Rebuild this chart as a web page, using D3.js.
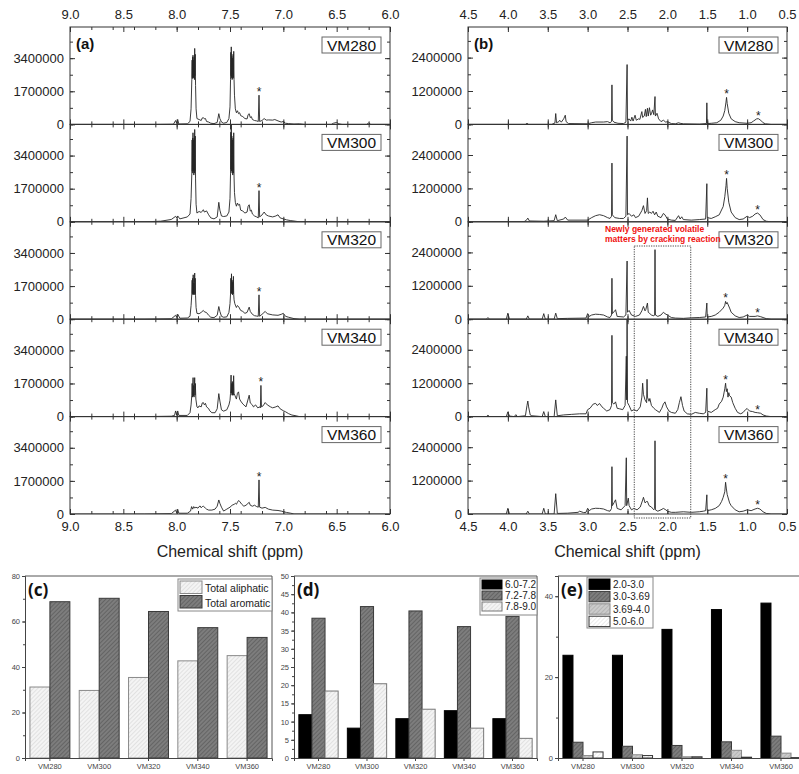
<!DOCTYPE html>
<html>
<head>
<meta charset="utf-8">
<script src="https://cdnjs.cloudflare.com/ajax/libs/d3/7.8.5/d3.min.js"></script>
<style>
body { margin: 0; background: #fff; }
svg { display: block; font-family: "Liberation Sans", Arial, sans-serif; }
</style>
</head>
<body>
<svg width="799" height="774"></svg>
<script>
// ---- data ----
var samples = ["VM280", "VM300", "VM320", "VM340", "VM360"];

var aromTicks = [9.0, 8.5, 8.0, 7.5, 7.0, 6.5, 6.0];
var aliTicks = [4.5, 4.0, 3.5, 3.0, 2.5, 2.0, 1.5, 1.0, 0.5];
var aromYTicks = [0, 1700000, 3400000];
var aliYTicks = [0, 1200000, 2400000];

// [ppm, intensity]
var aromVM280 = [[9.0,0],[8.2,0],[8.03,10e3],[8.01,200e3],[8.0,60e3],[7.99,250e3],[7.98,20e3],[7.9,30e3],[7.875,150e3],[7.865,800e3],[7.858,2300e3],[7.855,3300e3],[7.853,2400e3],[7.851,3450e3],[7.849,2350e3],[7.847,3550e3],[7.845,2400e3],[7.842,3300e3],[7.839,2400e3],[7.836,3450e3],[7.833,2300e3],[7.831,3900e3],[7.829,2500e3],[7.826,3600e3],[7.823,2000e3],[7.818,800e3],[7.81,300e3],[7.79,250e3],[7.77,200e3],[7.76,330e3],[7.75,350e3],[7.74,280e3],[7.73,300e3],[7.72,150e3],[7.7,120e3],[7.68,60e3],[7.65,40e3],[7.62,100e3],[7.605,550e3],[7.595,300e3],[7.58,120e3],[7.56,60e3],[7.53,100e3],[7.51,300e3],[7.5,900e3],[7.495,2300e3],[7.492,3700e3],[7.49,2500e3],[7.488,3980e3],[7.486,2400e3],[7.483,3500e3],[7.48,2300e3],[7.477,3400e3],[7.474,2350e3],[7.471,3600e3],[7.468,2400e3],[7.465,3750e3],[7.462,2300e3],[7.458,1500e3],[7.45,800e3],[7.44,600e3],[7.43,700e3],[7.42,550e3],[7.41,600e3],[7.4,450e3],[7.38,400e3],[7.36,300e3],[7.34,280e3],[7.33,500e3],[7.32,550e3],[7.31,350e3],[7.3,400e3],[7.29,250e3],[7.27,200e3],[7.25,180e3],[7.235,150e3],[7.228,1500e3],[7.222,150e3],[7.2,200e3],[7.18,300e3],[7.16,220e3],[7.14,230e3],[7.1,220e3],[7.08,250e3],[7.05,180e3],[7.02,120e3],[7.0,150e3],[6.98,60e3],[6.95,40e3],[6.9,20e3],[6.85,30e3],[6.8,0],[6.55,0],[6.53,60e3],[6.5,100e3],[6.48,30e3],[6.45,0],[6.22,0],[6.2,70e3],[6.18,0],[6.0,0]];
var aromVM300 = [[9.0,0],[8.3,0],[8.15,30e3],[8.05,120e3],[8.01,280e3],[8.0,200e3],[7.99,300e3],[7.97,150e3],[7.9,250e3],[7.875,400e3],[7.865,1200e3],[7.858,2500e3],[7.855,4200e3],[7.853,2600e3],[7.851,4300e3],[7.849,2500e3],[7.847,4570e3],[7.845,2600e3],[7.842,4200e3],[7.839,2400e3],[7.836,4300e3],[7.833,2500e3],[7.831,4740e3],[7.829,2600e3],[7.826,4400e3],[7.823,2200e3],[7.818,900e3],[7.81,450e3],[7.79,530e3],[7.77,480e3],[7.75,620e3],[7.74,500e3],[7.72,560e3],[7.7,360e3],[7.68,200e3],[7.65,150e3],[7.62,250e3],[7.605,1000e3],[7.595,600e3],[7.58,300e3],[7.56,270e3],[7.53,300e3],[7.51,500e3],[7.5,1200e3],[7.495,2500e3],[7.492,4600e3],[7.49,2700e3],[7.488,5200e3],[7.486,2600e3],[7.483,4400e3],[7.48,2500e3],[7.477,4200e3],[7.474,2400e3],[7.471,4300e3],[7.468,2500e3],[7.465,4570e3],[7.462,2300e3],[7.458,1500e3],[7.45,1000e3],[7.44,800e3],[7.43,960e3],[7.42,850e3],[7.41,900e3],[7.4,600e3],[7.38,550e3],[7.36,450e3],[7.34,500e3],[7.33,800e3],[7.32,875e3],[7.31,550e3],[7.3,600e3],[7.29,400e3],[7.27,300e3],[7.25,250e3],[7.235,200e3],[7.228,1600e3],[7.222,250e3],[7.2,350e3],[7.18,500e3],[7.16,350e3],[7.14,300e3],[7.1,250e3],[7.07,300e3],[7.05,360e3],[7.03,200e3],[7.0,150e3],[6.97,100e3],[6.93,60e3],[6.9,40e3],[6.85,0],[6.0,0]];
var aromVM320 = [[9.0,0],[8.3,0],[8.05,20e3],[8.01,200e3],[8.0,100e3],[7.99,258e3],[7.97,50e3],[7.9,60e3],[7.875,150e3],[7.865,700e3],[7.858,1300e3],[7.855,2000e3],[7.853,1300e3],[7.85,2100e3],[7.847,1250e3],[7.845,2280e3],[7.842,1300e3],[7.839,1850e3],[7.836,1250e3],[7.833,1900e3],[7.831,2370e3],[7.829,1300e3],[7.826,2100e3],[7.823,1200e3],[7.818,600e3],[7.81,300e3],[7.79,280e3],[7.77,350e3],[7.75,450e3],[7.74,380e3],[7.72,340e3],[7.7,200e3],[7.68,100e3],[7.65,80e3],[7.62,200e3],[7.605,650e3],[7.595,400e3],[7.58,150e3],[7.56,100e3],[7.53,120e3],[7.51,350e3],[7.5,800e3],[7.495,1300e3],[7.492,2100e3],[7.489,1300e3],[7.486,2330e3],[7.483,1350e3],[7.48,2000e3],[7.477,1250e3],[7.474,1900e3],[7.471,1300e3],[7.468,2200e3],[7.465,1250e3],[7.462,1000e3],[7.455,800e3],[7.44,600e3],[7.43,700e3],[7.42,650e3],[7.4,450e3],[7.38,400e3],[7.36,300e3],[7.34,350e3],[7.32,620e3],[7.31,400e3],[7.29,250e3],[7.27,180e3],[7.25,160e3],[7.235,150e3],[7.228,1250e3],[7.222,150e3],[7.2,250e3],[7.17,400e3],[7.15,280e3],[7.1,220e3],[7.05,200e3],[7.02,250e3],[7.0,300e3],[6.98,150e3],[6.95,100e3],[6.9,30e3],[6.85,0],[6.0,0]];
var aromVM340 = [[9.0,0],[8.3,0],[8.05,20e3],[8.02,60e3],[8.01,290e3],[8.0,80e3],[7.99,290e3],[7.98,60e3],[7.9,60e3],[7.875,200e3],[7.865,600e3],[7.858,1100e3],[7.855,1700e3],[7.852,1000e3],[7.849,1600e3],[7.846,2000e3],[7.843,1050e3],[7.84,1600e3],[7.837,1000e3],[7.834,1600e3],[7.831,2000e3],[7.828,1100e3],[7.825,1700e3],[7.82,900e3],[7.81,500e3],[7.8,450e3],[7.79,550e3],[7.77,500e3],[7.76,700e3],[7.75,720e3],[7.74,600e3],[7.73,680e3],[7.72,500e3],[7.7,410e3],[7.69,300e3],[7.67,200e3],[7.64,200e3],[7.62,400e3],[7.605,1180e3],[7.595,800e3],[7.58,350e3],[7.56,280e3],[7.53,350e3],[7.51,600e3],[7.5,840e3],[7.495,1200e3],[7.49,2130e3],[7.487,1200e3],[7.484,1700e3],[7.481,1100e3],[7.478,1800e3],[7.475,1100e3],[7.472,1700e3],[7.469,1100e3],[7.466,2100e3],[7.462,1200e3],[7.455,1100e3],[7.44,900e3],[7.43,1200e3],[7.42,1270e3],[7.41,900e3],[7.4,800e3],[7.38,650e3],[7.36,550e3],[7.35,500e3],[7.33,900e3],[7.32,1100e3],[7.31,700e3],[7.29,600e3],[7.28,500e3],[7.26,600e3],[7.24,450e3],[7.22,500e3],[7.215,450e3],[7.21,1600e3],[7.205,500e3],[7.19,550e3],[7.17,720e3],[7.15,600e3],[7.12,500e3],[7.1,450e3],[7.07,500e3],[7.05,550e3],[7.03,400e3],[7.0,300e3],[6.98,250e3],[6.95,150e3],[6.92,80e3],[6.88,40e3],[6.85,0],[6.0,0]];
var aromVM360 = [[9.0,0],[8.3,0],[8.05,20e3],[8.01,200e3],[8.0,60e3],[7.99,240e3],[7.98,40e3],[7.9,40e3],[7.87,150e3],[7.86,380e3],[7.85,250e3],[7.84,380e3],[7.83,300e3],[7.82,350e3],[7.8,300e3],[7.79,380e3],[7.78,410e3],[7.77,320e3],[7.76,380e3],[7.75,400e3],[7.73,300e3],[7.72,250e3],[7.7,200e3],[7.67,200e3],[7.64,250e3],[7.62,400e3],[7.605,720e3],[7.595,550e3],[7.58,350e3],[7.56,150e3],[7.53,250e3],[7.5,350e3],[7.48,450e3],[7.46,500e3],[7.45,550e3],[7.44,500e3],[7.43,600e3],[7.42,690e3],[7.41,650e3],[7.39,500e3],[7.37,400e3],[7.35,450e3],[7.33,550e3],[7.32,600e3],[7.31,450e3],[7.29,400e3],[7.27,450e3],[7.25,380e3],[7.235,350e3],[7.228,1750e3],[7.222,350e3],[7.2,300e3],[7.17,340e3],[7.14,250e3],[7.1,200e3],[7.05,180e3],[7.02,150e3],[7.0,120e3],[6.97,80e3],[6.93,40e3],[6.9,0],[6.0,0]];

var aliVM280 = [[4.5,0],[3.78,0],[3.76,40e3],[3.74,0],[3.45,0],[3.41,50e3],[3.4,390e3],[3.39,60e3],[3.36,100e3],[3.35,150e3],[3.33,80e3],[3.3,200e3],[3.28,330e3],[3.27,100e3],[3.24,30e3],[3.0,20e3],[2.95,60e3],[2.9,85e3],[2.8,85e3],[2.75,100e3],[2.72,60e3],[2.7,100e3],[2.695,1420e3],[2.69,150e3],[2.67,80e3],[2.62,40e3],[2.55,30e3],[2.52,80e3],[2.505,2150e3],[2.5,150e3],[2.48,200e3],[2.46,120e3],[2.445,260e3],[2.43,120e3],[2.405,330e3],[2.39,150e3],[2.36,200e3],[2.345,180e3],[2.32,460e3],[2.31,250e3],[2.29,300e3],[2.275,540e3],[2.265,280e3],[2.25,580e3],[2.24,300e3],[2.225,600e3],[2.21,330e3],[2.2,380e3],[2.185,520e3],[2.17,350e3],[2.155,1000e3],[2.15,300e3],[2.13,400e3],[2.11,200e3],[2.08,100e3],[2.05,150e3],[2.02,80e3],[2.0,100e3],[1.95,30e3],[1.9,20e3],[1.86,60e3],[1.84,40e3],[1.8,20e3],[1.6,10e3],[1.51,30e3],[1.505,775e3],[1.5,30e3],[1.45,40e3],[1.38,60e3],[1.33,150e3],[1.3,300e3],[1.28,500e3],[1.265,800e3],[1.258,970e3],[1.25,750e3],[1.23,400e3],[1.2,200e3],[1.15,100e3],[1.1,60e3],[1.0,40e3],[0.95,60e3],[0.92,120e3],[0.88,200e3],[0.86,206e3],[0.83,150e3],[0.8,60e3],[0.77,20e3],[0.7,0],[0.5,0]];
var aliVM300 = [[4.5,0],[3.8,0],[3.77,50e3],[3.75,133e3],[3.73,30e3],[3.55,20e3],[3.42,40e3],[3.4,255e3],[3.38,40e3],[3.3,100e3],[3.28,170e3],[3.25,60e3],[3.0,60e3],[2.95,150e3],[2.9,220e3],[2.85,255e3],[2.8,220e3],[2.75,150e3],[2.72,120e3],[2.7,200e3],[2.695,2110e3],[2.69,250e3],[2.66,150e3],[2.6,120e3],[2.55,120e3],[2.52,200e3],[2.505,3080e3],[2.5,250e3],[2.48,300e3],[2.45,200e3],[2.42,250e3],[2.4,150e3],[2.36,200e3],[2.32,400e3],[2.3,580e3],[2.28,300e3],[2.26,400e3],[2.25,860e3],[2.24,300e3],[2.22,350e3],[2.2,300e3],[2.18,380e3],[2.16,250e3],[2.14,350e3],[2.12,200e3],[2.08,150e3],[2.05,300e3],[2.03,250e3],[2.0,100e3],[1.95,60e3],[1.9,50e3],[1.86,220e3],[1.84,100e3],[1.82,180e3],[1.8,80e3],[1.7,60e3],[1.6,80e3],[1.52,100e3],[1.505,1370e3],[1.5,150e3],[1.45,120e3],[1.4,180e3],[1.35,250e3],[1.3,550e3],[1.28,900e3],[1.265,1300e3],[1.258,1560e3],[1.25,1200e3],[1.23,700e3],[1.2,350e3],[1.15,150e3],[1.1,80e3],[1.05,100e3],[1.0,200e3],[0.97,150e3],[0.93,200e3],[0.9,280e3],[0.87,315e3],[0.84,250e3],[0.8,80e3],[0.76,20e3],[0.7,0],[0.5,0]];
var aliVM320 = [[4.5,0],[4.27,0],[4.25,60e3],[4.23,0],[4.02,0],[4.0,218e3],[3.98,0],[3.77,0],[3.75,120e3],[3.73,0],[3.57,0],[3.55,200e3],[3.53,0],[3.42,0],[3.4,218e3],[3.38,20e3],[3.25,30e3],[3.02,40e3],[3.0,200e3],[2.98,100e3],[2.95,150e3],[2.9,180e3],[2.85,170e3],[2.8,150e3],[2.75,80e3],[2.72,60e3],[2.7,150e3],[2.695,1470e3],[2.69,200e3],[2.66,300e3],[2.65,340e3],[2.63,100e3],[2.55,80e3],[2.52,150e3],[2.505,2090e3],[2.5,250e3],[2.48,315e3],[2.45,150e3],[2.4,100e3],[2.35,150e3],[2.32,300e3],[2.3,460e3],[2.28,300e3],[2.27,350e3],[2.25,580e3],[2.24,250e3],[2.22,200e3],[2.2,150e3],[2.17,120e3],[2.16,150e3],[2.155,2500e3],[2.15,150e3],[2.12,100e3],[2.08,150e3],[2.05,250e3],[2.03,200e3],[2.0,150e3],[1.95,60e3],[1.9,40e3],[1.8,30e3],[1.7,50e3],[1.6,60e3],[1.52,80e3],[1.505,580e3],[1.5,80e3],[1.45,100e3],[1.4,150e3],[1.35,250e3],[1.3,400e3],[1.28,500e3],[1.27,640e3],[1.26,550e3],[1.25,600e3],[1.22,400e3],[1.2,250e3],[1.15,120e3],[1.1,60e3],[1.05,80e3],[1.0,150e3],[0.97,100e3],[0.9,100e3],[0.87,120e3],[0.83,90e3],[0.8,60e3],[0.76,20e3],[0.7,0],[0.5,0]];
var aliVM340 = [[4.5,0],[4.27,0],[4.25,50e3],[4.23,0],[4.02,0],[4.0,170e3],[3.98,20e3],[3.92,0],[3.9,70e3],[3.88,0],[3.78,30e3],[3.76,400e3],[3.75,560e3],[3.74,350e3],[3.72,60e3],[3.7,30e3],[3.57,0],[3.55,180e3],[3.53,0],[3.42,0],[3.4,600e3],[3.38,30e3],[3.3,60e3],[3.2,80e3],[3.1,100e3],[3.02,100e3],[3.0,250e3],[2.97,300e3],[2.93,450e3],[2.9,475e3],[2.88,400e3],[2.85,470e3],[2.82,350e3],[2.8,300e3],[2.76,200e3],[2.72,250e3],[2.7,400e3],[2.695,2920e3],[2.69,500e3],[2.67,450e3],[2.65,530e3],[2.63,300e3],[2.6,280e3],[2.56,250e3],[2.53,400e3],[2.515,2170e3],[2.51,600e3],[2.505,3600e3],[2.5,500e3],[2.48,400e3],[2.45,200e3],[2.42,250e3],[2.38,200e3],[2.34,350e3],[2.32,700e3],[2.31,1200e3],[2.3,800e3],[2.28,600e3],[2.26,500e3],[2.255,1340e3],[2.25,700e3],[2.23,550e3],[2.22,650e3],[2.2,400e3],[2.17,300e3],[2.15,250e3],[2.1,150e3],[2.07,300e3],[2.05,450e3],[2.03,530e3],[2.01,350e3],[1.98,200e3],[1.95,150e3],[1.9,120e3],[1.87,250e3],[1.85,500e3],[1.83,715e3],[1.81,400e3],[1.79,200e3],[1.75,100e3],[1.7,80e3],[1.65,150e3],[1.6,120e3],[1.55,100e3],[1.52,150e3],[1.505,1020e3],[1.5,200e3],[1.45,150e3],[1.4,250e3],[1.37,300e3],[1.35,450e3],[1.32,550e3],[1.3,700e3],[1.29,850e3],[1.28,1000e3],[1.27,1200e3],[1.26,900e3],[1.25,1000e3],[1.24,700e3],[1.23,860e3],[1.22,750e3],[1.2,700e3],[1.18,500e3],[1.15,300e3],[1.12,150e3],[1.08,100e3],[1.05,150e3],[1.02,250e3],[1.0,290e3],[0.97,200e3],[0.93,180e3],[0.9,150e3],[0.87,140e3],[0.83,120e3],[0.8,60e3],[0.76,20e3],[0.7,0],[0.5,0]];
var aliVM360 = [[4.5,0],[4.02,0],[4.0,206e3],[3.98,0],[3.77,0],[3.75,100e3],[3.73,0],[3.57,0],[3.55,206e3],[3.53,0],[3.42,0],[3.4,730e3],[3.38,20e3],[3.25,30e3],[3.12,60e3],[3.1,100e3],[3.05,50e3],[3.02,60e3],[3.0,206e3],[2.98,120e3],[2.95,180e3],[2.9,206e3],[2.85,200e3],[2.8,180e3],[2.75,120e3],[2.72,100e3],[2.7,200e3],[2.695,1700e3],[2.69,300e3],[2.67,400e3],[2.65,510e3],[2.63,200e3],[2.58,150e3],[2.53,300e3],[2.515,2020e3],[2.51,300e3],[2.49,570e3],[2.48,300e3],[2.45,150e3],[2.42,200e3],[2.38,150e3],[2.34,250e3],[2.31,500e3],[2.3,600e3],[2.28,400e3],[2.26,450e3],[2.25,450e3],[2.23,300e3],[2.2,250e3],[2.17,150e3],[2.16,200e3],[2.155,2630e3],[2.15,150e3],[2.12,100e3],[2.08,150e3],[2.05,200e3],[2.02,150e3],[2.0,100e3],[1.95,60e3],[1.9,60e3],[1.8,80e3],[1.7,60e3],[1.6,80e3],[1.55,100e3],[1.52,120e3],[1.505,690e3],[1.5,120e3],[1.45,150e3],[1.4,200e3],[1.35,300e3],[1.32,450e3],[1.3,600e3],[1.28,800e3],[1.27,1140e3],[1.26,900e3],[1.25,700e3],[1.22,400e3],[1.2,300e3],[1.15,150e3],[1.1,80e3],[1.05,100e3],[1.0,150e3],[0.95,120e3],[0.9,180e3],[0.87,206e3],[0.84,180e3],[0.8,80e3],[0.76,20e3],[0.7,0],[0.5,0]];

// starred (solvent) peaks: [ppm, height]
var aromStars = [[[7.228,1500e3]],[[7.228,1600e3]],[[7.228,1250e3]],[[7.21,1600e3]],[[7.228,1750e3]]];
var aliStars = [[[1.258,970e3],[0.86,206e3]],[[1.258,1560e3],[0.87,315e3]],[[1.27,640e3],[0.87,120e3]],[[1.27,1200e3],[0.87,140e3]],[[1.27,1140e3],[0.87,206e3]]];
var newRegion = [2.415, 1.707];

// bar charts
var cSeries = ["Total aliphatic", "Total aromatic"];
var cValues = [[31.2, 29.7, 35.4, 42.7, 45.0], [68.7, 70.2, 64.4, 57.3, 53.0]];
var dSeries = ["6.0-7.2", "7.2-7.8", "7.8-9.0"];
var dValues = [[11.9, 8.2, 10.8, 13.0, 10.8], [38.4, 41.6, 40.4, 36.1, 38.9], [18.4, 20.4, 13.4, 8.2, 5.4]];
var eSeries = ["2.0-3.0", "3.0-3.69", "3.69-4.0", "5.0-6.0"];
var eValues = [[25.4, 25.4, 31.8, 36.7, 38.3], [3.9, 2.9, 3.1, 4.0, 5.4], [0.6, 0.8, 0.3, 1.9, 1.2], [1.5, 0.6, 0.3, 0.2, 0.1]];

// ---- drawing ----
var svg = d3.select("svg");
var defs = svg.append("defs");

function hatch(id, bg, fg) {
  var p = defs.append("pattern").attr("id", id)
    .attr("patternUnits", "userSpaceOnUse").attr("width", 3).attr("height", 3)
    .attr("patternTransform", "rotate(45)");
  p.append("rect").attr("width", 3).attr("height", 3).attr("fill", bg);
  p.append("line").attr("x1", 0.5).attr("y1", 0).attr("x2", 0.5).attr("y2", 3)
    .attr("stroke", fg).attr("stroke-width", 0.8);
}
hatch("hDark", "#7d7d7d", "#5e5e5e");
hatch("hLight", "#f4f4f4", "#dcdcdc");
hatch("hMid", "#cbcbcb", "#b0b0b0");
hatch("hWhite", "#ffffff", "#e6e6e6");

var top0 = 27, panelH = 97.4;

function drawStack(o) {
  var x = d3.scaleLinear().domain(o.xDomain).range(o.xRange);
  var minor = x.ticks(12);
  var line = d3.line().x(function (d) { return x(d[0]); });

  o.spectra.forEach(function (spec, i) {
    var py = top0 + i * panelH;
    var y = d3.scaleLinear().domain([0, o.yMax]).range([py + panelH, py]);
    var yMinor = d3.range(0, o.yMax, o.yTicks[1] / 2);
    var g = svg.append("g");
    var cid = o.id + i;
    defs.append("clipPath").attr("id", cid).append("rect")
      .attr("x", o.xRange[0]).attr("y", py).attr("width", o.xRange[1] - o.xRange[0]).attr("height", panelH);

    g.append("path").datum(spec)
      .attr("clip-path", "url(#" + cid + ")")
      .attr("d", line.y(function (d) { return y(d[1]); }))
      .attr("fill", "none").attr("stroke", "#262626").attr("stroke-width", 0.9)
      .attr("stroke-linejoin", "round");

    g.selectAll("text.star").data(o.stars[i]).enter().append("text")
      .attr("x", function (d) { return x(d[0]); })
      .attr("y", function (d) { return y(d[1]) + 1; })
      .attr("text-anchor", "middle").attr("font-size", 12).attr("fill", "#222")
      .text("*");

    // axes, ticks pointing inward
    g.append("g").attr("transform", "translate(" + o.xRange[0] + ",0)")
      .call(d3.axisLeft(y).tickValues(o.yTicks).tickSize(-5).tickPadding(6).tickFormat(d3.format("d")));
    g.append("g").attr("transform", "translate(" + o.xRange[0] + ",0)")
      .call(d3.axisLeft(y).tickValues(yMinor).tickSize(-3).tickFormat(""));
    g.append("g").attr("transform", "translate(" + o.xRange[1] + ",0)")
      .call(d3.axisRight(y).tickValues(o.yTicks).tickSize(-5).tickFormat(""));
    g.append("g").attr("transform", "translate(" + o.xRange[1] + ",0)")
      .call(d3.axisRight(y).tickValues(yMinor).tickSize(-3).tickFormat(""));

    g.append("g").attr("transform", "translate(0," + py + ")")
      .call(d3.axisTop(x).tickValues(o.xTicks).tickSize(-5).tickPadding(8)
        .tickFormat(i === 0 ? d3.format(".1f") : ""));
    g.append("g").attr("transform", "translate(0," + py + ")")
      .call(d3.axisTop(x).tickValues(minor).tickSize(-3).tickFormat(""));
    g.append("g").attr("transform", "translate(0," + (py + panelH) + ")")
      .call(d3.axisBottom(x).tickValues(o.xTicks).tickSize(-5).tickPadding(8)
        .tickFormat(i === o.spectra.length - 1 ? d3.format(".1f") : ""));
    g.append("g").attr("transform", "translate(0," + (py + panelH) + ")")
      .call(d3.axisBottom(x).tickValues(minor).tickSize(-3).tickFormat(""));

    g.selectAll(".domain").remove();
    g.selectAll(".tick line").attr("stroke", "#333");
    g.selectAll(".tick text").attr("font-size", 13).attr("fill", "#222")
      .attr("font-family", "Liberation Sans, Arial, sans-serif");

    g.append("rect").attr("x", o.xRange[0]).attr("y", py)
      .attr("width", o.xRange[1] - o.xRange[0]).attr("height", panelH)
      .attr("fill", "none").attr("stroke", "#333").attr("stroke-width", 1);

    // sample name box
    var bx = o.xRange[1] - 68, by = py + 10;
    g.append("rect").attr("x", bx).attr("y", by).attr("width", 59).attr("height", 16)
      .attr("fill", "#fff").attr("stroke", "#666").attr("stroke-width", 1);
    g.append("text").attr("x", bx + 29.5).attr("y", by + 13.5).attr("text-anchor", "middle")
      .attr("font-size", 15.5).attr("fill", "#111").text(samples[i]);
  });

  svg.append("text").attr("x", o.xRange[0] + 6).attr("y", top0 + 22)
    .attr("font-size", 15).attr("font-weight", "bold").attr("fill", "#111").text(o.label);
  svg.append("text").attr("x", (o.xRange[0] + o.xRange[1]) / 2).attr("y", 557)
    .attr("text-anchor", "middle").attr("font-size", 16).attr("fill", "#222")
    .text("Chemical shift (ppm)");
  return x;
}

drawStack({ id: "ca", xDomain: [9.0, 6.0], xRange: [70, 390], xTicks: aromTicks,
  yMax: 5000000, yTicks: aromYTicks, spectra: [aromVM280, aromVM300, aromVM320, aromVM340, aromVM360],
  stars: aromStars, label: "(a)" });
var xb = drawStack({ id: "cb", xDomain: [4.5, 0.5], xRange: [468, 787], xTicks: aliTicks,
  yMax: 3500000, yTicks: aliYTicks, spectra: [aliVM280, aliVM300, aliVM320, aliVM340, aliVM360],
  stars: aliStars, label: "(b)" });

// highlighted region of newly generated volatiles
svg.append("rect").attr("x", xb(newRegion[0])).attr("y", 246)
  .attr("width", xb(newRegion[1]) - xb(newRegion[0])).attr("height", 272)
  .attr("fill", "none").attr("stroke", "#444").attr("stroke-width", 1).attr("stroke-dasharray", "1.2,1.2");
svg.append("text").attr("x", 605).attr("y", 232).attr("font-size", 8.5).attr("font-weight", "bold")
  .attr("fill", "#f01010").text("Newly generated volatile");
svg.append("text").attr("x", 605).attr("y", 242).attr("font-size", 8.5).attr("font-weight", "bold")
  .attr("fill", "#f01010").text("matters by cracking reaction");

// ---- bar charts ----
function drawBars(o) {
  var x0 = d3.scaleBand().domain(samples).range(o.xRange).paddingInner(0.19).paddingOuter(0.1);
  var x1 = d3.scaleBand().domain(d3.range(o.values.length)).range([0, x0.bandwidth()]);
  var y = d3.scaleLinear().domain([0, o.yMax]).range([758, 576]);
  var g = svg.append("g");

  o.values.forEach(function (vals, s) {
    g.selectAll("rect.s" + s).data(vals).enter().append("rect")
      .attr("x", function (d, i) { return x0(samples[i]) + x1(s); })
      .attr("y", function (d) { return y(d); })
      .attr("width", x1.bandwidth())
      .attr("height", function (d) { return y(0) - y(d); })
      .attr("fill", o.fills[s]).attr("stroke", o.strokes[s]).attr("stroke-width", 1);
  });

  g.append("g").attr("transform", "translate(" + o.xRange[0] + ",0)")
    .call(d3.axisLeft(y).tickValues(o.yTicks).tickSize(3).tickPadding(2));
  g.append("g").attr("transform", "translate(" + o.xRange[0] + ",0)")
    .call(d3.axisLeft(y).tickValues(o.yMinor).tickSize(2).tickFormat(""));
  g.append("g").attr("transform", "translate(0,758)")
    .call(d3.axisBottom(x0).tickSize(3).tickPadding(3));
  g.selectAll(".domain").attr("stroke", "#444");
  g.selectAll(".tick line").attr("stroke", "#444");
  g.selectAll(".tick text").attr("font-size", 7.5).attr("fill", "#444")
    .attr("font-family", "Liberation Sans, Arial, sans-serif");

  g.append("line").attr("x1", o.xRange[0]).attr("x2", o.xRange[1]).attr("y1", 576).attr("y2", 576)
    .attr("stroke", "#555");
  g.append("line").attr("x1", o.xRange[1]).attr("x2", o.xRange[1]).attr("y1", 576).attr("y2", 758)
    .attr("stroke", "#555");

  g.append("text").attr("x", o.xRange[0] + 3).attr("y", 596)
    .attr("font-family", "Noto Sans, sans-serif").attr("font-size", 17).attr("font-weight", "bold")
    .attr("fill", "#111").text(o.label);

  var L = o.legend;
  g.append("rect").attr("x", L.x).attr("y", L.y).attr("width", L.w).attr("height", L.h)
    .attr("fill", "#fff").attr("stroke", "#888");
  o.series.forEach(function (name, s) {
    var yy = L.y + 2 + s * L.step;
    g.append("rect").attr("x", L.x + 2).attr("y", yy).attr("width", L.sw).attr("height", L.step - 2)
      .attr("fill", o.fills[s]).attr("stroke", o.strokes[s]);
    g.append("text").attr("x", L.x + L.sw + 5).attr("y", yy + L.step - 3.5)
      .attr("font-size", L.fs).attr("fill", "#222").text(name);
  });
}

drawBars({ xRange: [25, 272], yMax: 80, yTicks: [0, 20, 40, 60, 80], yMinor: d3.range(0, 80, 10),
  values: cValues, series: cSeries, label: "(c)",
  fills: ["url(#hLight)", "url(#hDark)"], strokes: ["#8a8a8a", "#3a3a3a"],
  legend: { x: 178, y: 579, w: 94, h: 32, step: 14.5, sw: 22, fs: 10.5 } });
drawBars({ xRange: [294, 537], yMax: 50, yTicks: d3.range(0, 51, 5), yMinor: d3.range(0, 50, 2.5),
  values: dValues, series: dSeries, label: "(d)",
  fills: ["#000", "url(#hDark)", "url(#hLight)"], strokes: ["#000", "#3a3a3a", "#777"],
  legend: { x: 480, y: 578, w: 57, h: 37, step: 11, sw: 20, fs: 10 } });
drawBars({ xRange: [558, 806], yMax: 45, yTicks: [0, 20, 40], yMinor: d3.range(0, 45, 10),
  values: eValues, series: eSeries, label: "(e)",
  fills: ["#000", "url(#hDark)", "url(#hMid)", "url(#hWhite)"], strokes: ["#000", "#3a3a3a", "#8a8a8a", "#333"],
  legend: { x: 587, y: 577, w: 66, h: 51, step: 12.4, sw: 21, fs: 10 } });
</script>
</body>
</html>
